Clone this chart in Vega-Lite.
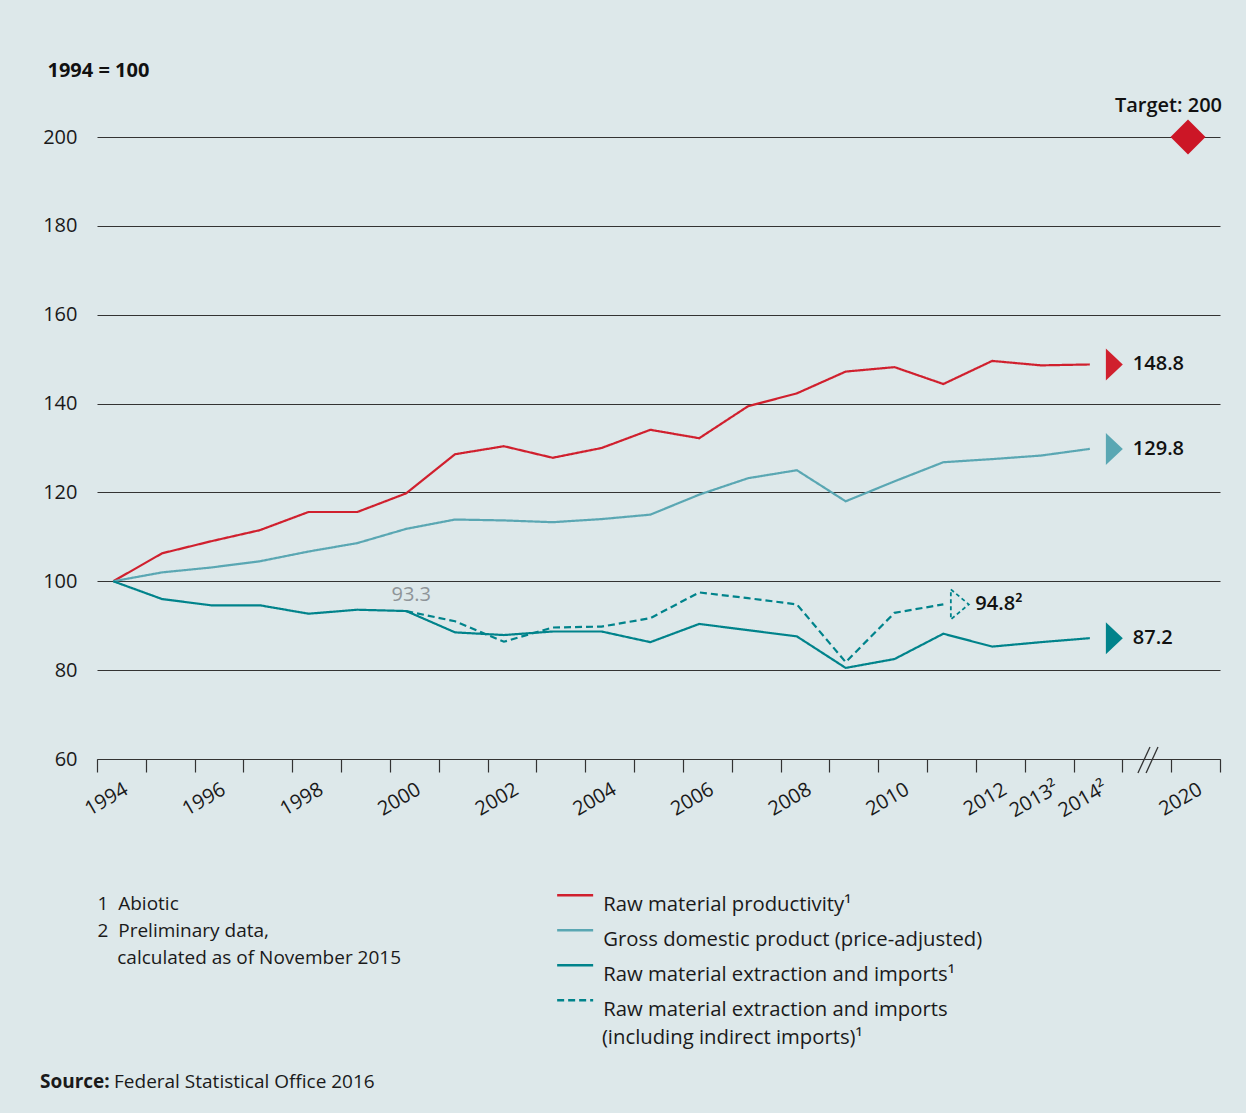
{
  "$schema": "https://vega.github.io/schema/vega-lite/v6.json",
  "width": 1123,
  "height": 622,
  "autosize": {"type": "none"},
  "padding": {"left": 97, "top": 137, "right": 26, "bottom": 354},
  "background": "#dde8ea",
  "config": {
    "view": {"stroke": null},
    "font": "Open Sans",
    "legend": {
      "orient": "none",
      "legendX": 468,
      "legendY": 748,
      "direction": "vertical",
      "symbolType": "M-3,0H3",
      "symbolSize": 144,
      "symbolStrokeWidth": 2.5,
      "labelFont": "Open Sans",
      "labelFontSize": 20.3,
      "labelOffset": 18,
      "labelBaseline": "top",
      "rowPadding": 4,
      "labelLimit": 600,
      "padding": 0,
      "labelColor": "#1a1a1a",
      "titleOrient": "bottom",
      "titleAnchor": "start",
      "titleFont": "Open Sans",
      "titleFontWeight": "normal",
      "titleFontSize": 20.3,
      "titleColor": "#1a1a1a",
      "titlePadding": 8,
      "titleLimit": 600
    }
  },
  "title": {
    "text": "Source:",
    "subtitle": "\u200b\u00a0\u00a0\u00a0\u00a0\u00a0\u00a0\u00a0\u00a0\u00a0\u00a0\u00a0\u00a0\u00a0\u00a0\u00a0Federal Statistical Office 2016",
    "orient": "bottom",
    "anchor": "start",
    "frame": "group",
    "offset": 24,
    "dx": -57,
    "font": "Open Sans",
    "fontSize": 19,
    "fontWeight": "bold",
    "color": "#1a1a1a",
    "subtitleFont": "Open Sans",
    "subtitleFontSize": 19,
    "subtitleFontWeight": "normal",
    "subtitleColor": "#1a1a1a",
    "subtitlePadding": -19
  },
  "datasets": {
    "series": [
      {"series": "Raw material productivity¹", "year": 1994, "value": 100},
      {"series": "Raw material productivity¹", "year": 1995, "value": 106.3},
      {"series": "Raw material productivity¹", "year": 1996, "value": 109.0},
      {"series": "Raw material productivity¹", "year": 1997, "value": 111.5},
      {"series": "Raw material productivity¹", "year": 1998, "value": 115.6},
      {"series": "Raw material productivity¹", "year": 1999, "value": 115.6},
      {"series": "Raw material productivity¹", "year": 2000, "value": 119.8},
      {"series": "Raw material productivity¹", "year": 2001, "value": 128.6},
      {"series": "Raw material productivity¹", "year": 2002, "value": 130.4},
      {"series": "Raw material productivity¹", "year": 2003, "value": 127.8},
      {"series": "Raw material productivity¹", "year": 2004, "value": 130.0},
      {"series": "Raw material productivity¹", "year": 2005, "value": 134.1},
      {"series": "Raw material productivity¹", "year": 2006, "value": 132.2},
      {"series": "Raw material productivity¹", "year": 2007, "value": 139.4},
      {"series": "Raw material productivity¹", "year": 2008, "value": 142.3},
      {"series": "Raw material productivity¹", "year": 2009, "value": 147.2},
      {"series": "Raw material productivity¹", "year": 2010, "value": 148.2},
      {"series": "Raw material productivity¹", "year": 2011, "value": 144.4},
      {"series": "Raw material productivity¹", "year": 2012, "value": 149.6},
      {"series": "Raw material productivity¹", "year": 2013, "value": 148.6},
      {"series": "Raw material productivity¹", "year": 2014, "value": 148.8},
      {"series": "Gross domestic product (price-adjusted)", "year": 1994, "value": 100},
      {"series": "Gross domestic product (price-adjusted)", "year": 1995, "value": 102.0},
      {"series": "Gross domestic product (price-adjusted)", "year": 1996, "value": 103.1},
      {"series": "Gross domestic product (price-adjusted)", "year": 1997, "value": 104.5},
      {"series": "Gross domestic product (price-adjusted)", "year": 1998, "value": 106.7},
      {"series": "Gross domestic product (price-adjusted)", "year": 1999, "value": 108.6},
      {"series": "Gross domestic product (price-adjusted)", "year": 2000, "value": 111.8},
      {"series": "Gross domestic product (price-adjusted)", "year": 2001, "value": 113.9},
      {"series": "Gross domestic product (price-adjusted)", "year": 2002, "value": 113.7},
      {"series": "Gross domestic product (price-adjusted)", "year": 2003, "value": 113.3},
      {"series": "Gross domestic product (price-adjusted)", "year": 2004, "value": 114.0},
      {"series": "Gross domestic product (price-adjusted)", "year": 2005, "value": 115.0},
      {"series": "Gross domestic product (price-adjusted)", "year": 2006, "value": 119.5},
      {"series": "Gross domestic product (price-adjusted)", "year": 2007, "value": 123.2},
      {"series": "Gross domestic product (price-adjusted)", "year": 2008, "value": 125.0},
      {"series": "Gross domestic product (price-adjusted)", "year": 2009, "value": 118.0},
      {"series": "Gross domestic product (price-adjusted)", "year": 2010, "value": 122.5},
      {"series": "Gross domestic product (price-adjusted)", "year": 2011, "value": 126.8},
      {"series": "Gross domestic product (price-adjusted)", "year": 2012, "value": 127.5},
      {"series": "Gross domestic product (price-adjusted)", "year": 2013, "value": 128.3},
      {"series": "Gross domestic product (price-adjusted)", "year": 2014, "value": 129.8},
      {"series": "Raw material extraction and imports¹", "year": 1994, "value": 100},
      {"series": "Raw material extraction and imports¹", "year": 1995, "value": 96.0},
      {"series": "Raw material extraction and imports¹", "year": 1996, "value": 94.6},
      {"series": "Raw material extraction and imports¹", "year": 1997, "value": 94.6},
      {"series": "Raw material extraction and imports¹", "year": 1998, "value": 92.7},
      {"series": "Raw material extraction and imports¹", "year": 1999, "value": 93.6},
      {"series": "Raw material extraction and imports¹", "year": 2000, "value": 93.3},
      {"series": "Raw material extraction and imports¹", "year": 2001, "value": 88.5},
      {"series": "Raw material extraction and imports¹", "year": 2002, "value": 87.9},
      {"series": "Raw material extraction and imports¹", "year": 2003, "value": 88.7},
      {"series": "Raw material extraction and imports¹", "year": 2004, "value": 88.7},
      {"series": "Raw material extraction and imports¹", "year": 2005, "value": 86.3},
      {"series": "Raw material extraction and imports¹", "year": 2006, "value": 90.4},
      {"series": "Raw material extraction and imports¹", "year": 2007, "value": 89.0},
      {"series": "Raw material extraction and imports¹", "year": 2008, "value": 87.6},
      {"series": "Raw material extraction and imports¹", "year": 2009, "value": 80.5},
      {"series": "Raw material extraction and imports¹", "year": 2010, "value": 82.5},
      {"series": "Raw material extraction and imports¹", "year": 2011, "value": 88.2},
      {"series": "Raw material extraction and imports¹", "year": 2012, "value": 85.3},
      {"series": "Raw material extraction and imports¹", "year": 2013, "value": 86.3},
      {"series": "Raw material extraction and imports¹", "year": 2014, "value": 87.2},
      {"series": "Raw material extraction and imports (including indirect imports)¹", "year": 2000, "value": 93.3},
      {"series": "Raw material extraction and imports (including indirect imports)¹", "year": 2001, "value": 91.0},
      {"series": "Raw material extraction and imports (including indirect imports)¹", "year": 2002, "value": 86.4},
      {"series": "Raw material extraction and imports (including indirect imports)¹", "year": 2003, "value": 89.6},
      {"series": "Raw material extraction and imports (including indirect imports)¹", "year": 2004, "value": 89.8},
      {"series": "Raw material extraction and imports (including indirect imports)¹", "year": 2005, "value": 91.7},
      {"series": "Raw material extraction and imports (including indirect imports)¹", "year": 2006, "value": 97.5},
      {"series": "Raw material extraction and imports (including indirect imports)¹", "year": 2007, "value": 96.2},
      {"series": "Raw material extraction and imports (including indirect imports)¹", "year": 2008, "value": 94.8},
      {"series": "Raw material extraction and imports (including indirect imports)¹", "year": 2009, "value": 81.8},
      {"series": "Raw material extraction and imports (including indirect imports)¹", "year": 2010, "value": 92.9},
      {"series": "Raw material extraction and imports (including indirect imports)¹", "year": 2011, "value": 94.8}
    ],
    "ends": [
      {"series": "Raw material productivity¹", "year": 2014, "value": 148.8, "label": "148.8"},
      {"series": "Gross domestic product (price-adjusted)", "year": 2014, "value": 129.8, "label": "129.8"},
      {"series": "Raw material extraction and imports¹", "year": 2014, "value": 87.2, "label": "87.2"}
    ],
    "endDashed": [
      {"series": "Raw material extraction and imports (including indirect imports)¹", "year": 2011, "value": 94.8, "label": "94.8²"}
    ],
    "target": [
      {"year": 2020, "value": 200, "label": "Target: 200"}
    ],
    "start": [
      {"year": 2000, "value": 93.3, "label": "93.3"}
    ]
  },
  "layer": [
    {
      "data": {"name": "series"},
      "mark": {"type": "line", "strokeWidth": 2.2},
      "encoding": {
        "x": {
          "field": "year",
          "type": "quantitative",
          "scale": {"domain": [1993.667, 2014.667, 2020, 2021], "range": [0, 1025.4, 1091, 1123], "nice": false, "zero": false},
          "axis": {
            "values": [1993.667, 1994.667, 1995.667, 1996.667, 1997.667, 1998.667, 1999.667, 2000.667, 2001.667, 2002.667, 2003.667, 2004.667, 2005.667, 2006.667, 2007.667, 2008.667, 2009.667, 2010.667, 2011.667, 2012.667, 2013.667, 2014.667, 2018.64, 2021],
            "labelExpr": "round(datum.value) == 2019 ? '2020' : round(datum.value) == 2013 ? '2013²' : round(datum.value) == 2014 ? '2014²' : (round(datum.value) <= 2012 && round(datum.value) % 2 == 0) ? '' + round(datum.value) : ''",
            "grid": false,
            "domainColor": "#333333",
            "domainWidth": 1.2,
            "tickColor": "#333333",
            "tickSize": 13,
            "tickWidth": 1.2,
            "labelAngle": -30,
            "labelAlign": "center",
            "labelBaseline": "middle",
            "labelPadding": 27,
            "labelOffset": 9,
            "labelFontSize": 20,
            "labelOverlap": false,
            "labelBound": false,
            "labelColor": "#1a1a1a",
            "title": ["1\u00a0\u00a0Abiotic", "2\u00a0\u00a0Preliminary data,", "\u200b\u00a0\u00a0\u00a0\u00a0calculated as of November 2015"],
            "titleX": 0,
            "titleY": 150,
            "titleAlign": "left",
            "titleAnchor": "start",
            "titleBaseline": "alphabetic",
            "titleAngle": 0,
            "titleFontSize": 19,
            "titleFontWeight": "normal",
            "titleLineHeight": 27,
            "titleColor": "#1a1a1a"
          }
        },
        "y": {
          "field": "value",
          "type": "quantitative",
          "scale": {"domain": [60, 200], "nice": false, "zero": false},
          "axis": {
            "values": [60, 80, 100, 120, 140, 160, 180, 200],
            "grid": true,
            "gridColor": "#333333",
            "gridWidth": 1,
            "domain": false,
            "ticks": false,
            "labelPadding": 20,
            "labelFontSize": 20,
            "labelColor": "#1a1a1a",
            "title": "1994 = 100",
            "titleAngle": 0,
            "titleAlign": "left",
            "titleBaseline": "alphabetic",
            "titleX": -50,
            "titleY": -61,
            "titleFontSize": 20,
            "titleFontWeight": "bold",
            "titleColor": "#111111"
          }
        },
        "color": {
          "field": "series",
          "type": "nominal",
          "title": "\u200b\u00a0\u00a0\u00a0\u00a0\u00a0\u00a0\u00a0(including indirect imports)¹",
          "scale": {
            "domain": ["Raw material productivity¹", "Gross domestic product (price-adjusted)", "Raw material extraction and imports¹", "Raw material extraction and imports (including indirect imports)¹"],
            "range": ["#d0202e", "#5aa7b3", "#00838b", "#00838b"]
          },
          "legend": {"labelExpr": "datum.label == 'Raw material extraction and imports (including indirect imports)¹' ? 'Raw material extraction and imports' : datum.label"}
        },
        "strokeDash": {
          "field": "series",
          "type": "nominal",
          "title": "\u200b\u00a0\u00a0\u00a0\u00a0\u00a0\u00a0\u00a0(including indirect imports)¹",
          "scale": {
            "domain": ["Raw material productivity¹", "Gross domestic product (price-adjusted)", "Raw material extraction and imports¹", "Raw material extraction and imports (including indirect imports)¹"],
            "range": [[1, 0], [1, 0], [1, 0], [7, 4]]
          },
          "legend": {"labelExpr": "datum.label == 'Raw material extraction and imports (including indirect imports)¹' ? 'Raw material extraction and imports' : datum.label"}
        }
      }
    },
    {
      "data": {"values": [{}]},
      "mark": {"type": "rule", "color": "#333333", "strokeWidth": 1.3},
      "encoding": {"x": {"datum": 2015.93}, "x2": {"datum": 2016.91}, "y": {"datum": 56.85}, "y2": {"datum": 62.7}}
    },
    {
      "data": {"values": [{}]},
      "mark": {"type": "rule", "color": "#333333", "strokeWidth": 1.3},
      "encoding": {"x": {"datum": 2016.59}, "x2": {"datum": 2017.56}, "y": {"datum": 56.85}, "y2": {"datum": 62.7}}
    },
    {
      "data": {"name": "ends"},
      "mark": {"type": "point", "shape": "M-0.53,-1L0.53,0L-0.53,1Z", "size": 1024, "filled": true, "opacity": 1, "xOffset": 24.5},
      "encoding": {
        "x": {"field": "year", "type": "quantitative"},
        "y": {"field": "value", "type": "quantitative"},
        "color": {"field": "series", "type": "nominal", "legend": null}
      }
    },
    {
      "data": {"name": "ends"},
      "mark": {"type": "text", "align": "left", "baseline": "middle", "dx": 43, "fontSize": 20, "fontWeight": 600, "color": "#111111"},
      "encoding": {
        "x": {"field": "year", "type": "quantitative"},
        "y": {"field": "value", "type": "quantitative"},
        "text": {"field": "label"}
      }
    },
    {
      "data": {"name": "endDashed"},
      "mark": {"type": "point", "shape": "M-0.6,-1L0.6,0L-0.6,1Z", "size": 900, "filled": false, "opacity": 1, "strokeWidth": 1.8, "strokeDash": [4, 3], "xOffset": 16.5},
      "encoding": {
        "x": {"field": "year", "type": "quantitative"},
        "y": {"field": "value", "type": "quantitative"},
        "color": {"field": "series", "type": "nominal", "legend": null}
      }
    },
    {
      "data": {"name": "endDashed"},
      "mark": {"type": "text", "align": "left", "baseline": "middle", "dx": 32, "fontSize": 20, "fontWeight": 600, "color": "#111111"},
      "encoding": {
        "x": {"field": "year", "type": "quantitative"},
        "y": {"field": "value", "type": "quantitative"},
        "text": {"field": "label"}
      }
    },
    {
      "data": {"name": "start"},
      "mark": {"type": "text", "align": "center", "baseline": "middle", "dx": 5, "dy": -16, "fontSize": 20, "fontWeight": 500, "color": "#8e9498"},
      "encoding": {
        "x": {"field": "year", "type": "quantitative"},
        "y": {"field": "value", "type": "quantitative"},
        "text": {"field": "label"}
      }
    },
    {
      "data": {"name": "target"},
      "mark": {"type": "point", "shape": "diamond", "size": 1225, "filled": true, "opacity": 1, "color": "#cc1626"},
      "encoding": {
        "x": {"field": "year", "type": "quantitative"},
        "y": {"field": "value", "type": "quantitative"}
      }
    },
    {
      "data": {"name": "target"},
      "mark": {"type": "text", "align": "right", "baseline": "middle", "dx": 34, "dy": -31, "fontSize": 20, "fontWeight": 600, "color": "#111111"},
      "encoding": {
        "x": {"field": "year", "type": "quantitative"},
        "y": {"field": "value", "type": "quantitative"},
        "text": {"field": "label"}
      }
    }
  ]
}
